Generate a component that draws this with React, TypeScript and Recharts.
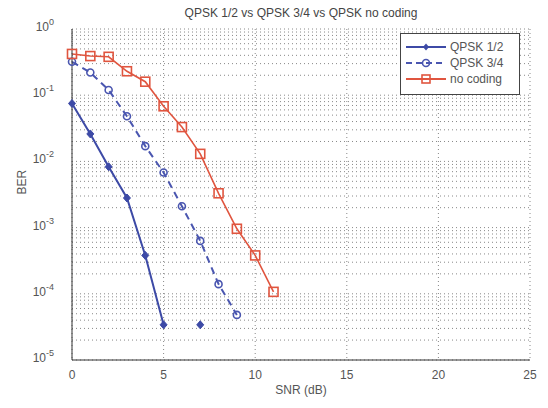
import React from "react";
import {
  LineChart,
  Line,
  XAxis,
  YAxis,
  CartesianGrid,
} from "recharts";

const snr = [0, 1, 2, 3, 4, 5, 6, 7, 8, 9, 10, 11];
const qpsk12 = [0.075, 0.026, 0.0083, 0.0028, 0.00038, 0.000034, null, 0.000034, null, null, null, null];
const qpsk34 = [0.32, 0.22, 0.12, 0.048, 0.017, 0.0068, 0.0021, 0.00063, 0.00014, 0.000048, null, null];
const noCoding = [0.42, 0.39, 0.38, 0.23, 0.16, 0.068, 0.033, 0.013, 0.0033, 0.00096, 0.00038, 0.000107];

const xTicks = [0, 5, 10, 15, 20, 25];
const yMajor = [1e-5, 1e-4, 1e-3, 1e-2, 1e-1, 1];
const yMinorSteps = [2, 3, 4, 5, 6, 7, 8, 9];

const BLUE = "#3d4aa6";
const BLUE2 = "#4a56b0";
const RED = "#e0553f";
const TXT = "#555";

const data = snr.map((x, i) => ({
  snr: x,
  q12: qpsk12[i],
  q34: qpsk34[i],
  nc: noCoding[i],
}));

const yTicks = [
  ...yMajor,
  ...yMajor.slice(0, -1).flatMap((d) => yMinorSteps.map((k) => k * d)),
].sort((a, b) => a - b);

const YTick = (props: any) => {
  const { x, y, payload } = props;
  const v = payload.value;
  const e = Math.round(Math.log10(v));
  if (Math.abs(v - Math.pow(10, e)) > 1e-12 * Math.pow(10, e)) return null;
  return (
    <text x={x - 10} y={y + 2} textAnchor="end" fill={TXT} fontSize={12}>
      10
      <tspan dy={-6} fontSize={9}>
        {e}
      </tspan>
    </text>
  );
};

const Diamond = (props: any) => {
  const { cx, cy, value } = props;
  if (value == null || cx == null || cy == null) return null;
  return (
    <path
      d={`M${cx},${cy - 4}L${cx + 3.5},${cy}L${cx},${cy + 4}L${cx - 3.5},${cy}Z`}
      fill={BLUE}
      stroke={BLUE}
    />
  );
};

const Circle = (props: any) => {
  const { cx, cy, value } = props;
  if (value == null || cx == null || cy == null) return null;
  return <circle cx={cx} cy={cy} r={3.5} fill="none" stroke={BLUE2} strokeWidth={1.6} />;
};

const Square = (props: any) => {
  const { cx, cy, value } = props;
  if (value == null || cx == null || cy == null) return null;
  return (
    <rect x={cx - 4.5} y={cy - 4.5} width={9} height={9} fill="none" stroke={RED} strokeWidth={1.6} />
  );
};

const legendItems = [
  { label: "QPSK 1/2", color: BLUE, dash: undefined, mark: "d" },
  { label: "QPSK 3/4", color: BLUE2, dash: "6 4", mark: "c" },
  { label: "no coding", color: RED, dash: undefined, mark: "s" },
];

const LegendBox = () => (
  <svg width={120} height={62} style={{ display: "block" }}>
    <rect x={0.5} y={0.5} width={119} height={61} fill="#fff" stroke="#444" />
    {legendItems.map((it, i) => {
      const y = 14 + i * 16;
      return (
        <g key={it.label}>
          <line x1={6} x2={46} y1={y} y2={y} stroke={it.color} strokeWidth={2} strokeDasharray={it.dash} />
          {it.mark === "d" && (
            <path d={`M26,${y - 3.5}L29,${y}L26,${y + 3.5}L23,${y}Z`} fill={it.color} />
          )}
          {it.mark === "c" && (
            <circle cx={26} cy={y} r={3.5} fill="none" stroke={it.color} strokeWidth={1.6} />
          )}
          {it.mark === "s" && (
            <rect x={22} y={y - 4} width={8} height={8} fill="none" stroke={it.color} strokeWidth={1.6} />
          )}
          <text x={50} y={y + 4} fontSize={12} fill={TXT}>
            {it.label}
          </text>
        </g>
      );
    })}
  </svg>
);

export default function App() {
  return (
    <div
      style={{
        position: "absolute",
        left: 0,
        top: 0,
        width: 548,
        height: 408,
        background: "#fff",
        fontFamily: "Arial, 'Liberation Sans', sans-serif",
      }}
    >
      <div
        style={{
          position: "absolute",
          top: 6,
          left: 72,
          width: 458,
          textAlign: "center",
          fontSize: 12,
          color: "#444",
        }}
      >
        QPSK 1/2 vs QPSK 3/4 vs QPSK no coding
      </div>
      <LineChart
        width={548}
        height={408}
        data={data}
        margin={{ top: 29, right: 18, left: 0, bottom: 0 }}
      >
        <CartesianGrid stroke="#888" strokeDasharray="1 3" horizontal vertical />
        <XAxis
          dataKey="snr"
          type="number"
          domain={[0, 25]}
          ticks={xTicks}
          height={48}
          tickLine={false}
          axisLine={{ stroke: "#333" }}
          tick={{ fill: TXT, fontSize: 12 }}
          tickMargin={4}
          label={{ value: "SNR (dB)", position: "insideBottom", offset: 14, fill: TXT, fontSize: 12 }}
        />
        <XAxis
          xAxisId="top"
          orientation="top"
          dataKey="snr"
          type="number"
          domain={[0, 25]}
          ticks={xTicks}
          height={0}
          tick={false}
          tickLine={false}
          axisLine={{ stroke: "#333" }}
        />
        <YAxis
          type="number"
          scale="log"
          domain={[1e-5, 1]}
          allowDataOverflow
          ticks={yTicks}
          interval={0}
          width={72}
          tickLine={false}
          axisLine={{ stroke: "#333" }}
          tick={<YTick />}
          label={{ value: "BER", angle: -90, position: "insideLeft", offset: 22, fill: TXT, fontSize: 12 }}
        />
        <YAxis
          yAxisId="right"
          orientation="right"
          type="number"
          scale="log"
          domain={[1e-5, 1]}
          allowDataOverflow
          width={0}
          tick={false}
          tickLine={false}
          axisLine={{ stroke: "#333" }}
        />
        <Line
          dataKey="q12"
          stroke={BLUE}
          strokeWidth={2}
          dot={<Diamond />}
          activeDot={false}
          connectNulls={false}
          isAnimationActive={false}
        />
        <Line
          dataKey="q34"
          stroke={BLUE2}
          strokeWidth={2}
          strokeDasharray="7 5"
          dot={<Circle />}
          activeDot={false}
          isAnimationActive={false}
        />
        <Line
          dataKey="nc"
          stroke={RED}
          strokeWidth={1.6}
          dot={<Square />}
          activeDot={false}
          isAnimationActive={false}
        />
      </LineChart>
      <div style={{ position: "absolute", left: 400, top: 33 }}>
        <LegendBox />
      </div>
    </div>
  );
}
